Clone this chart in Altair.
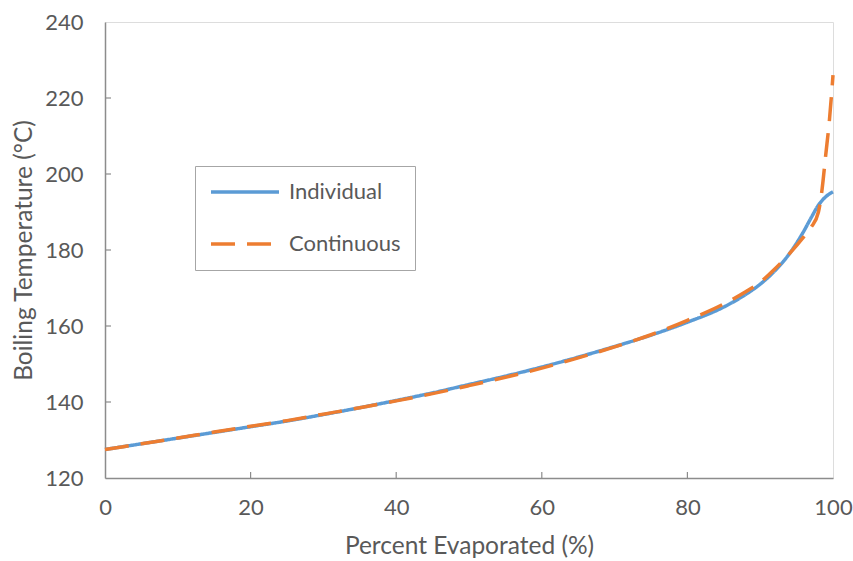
import altair as alt
import pandas as pd

ind_x = [0, 5, 10, 15, 20, 25, 30, 35, 40, 45, 50, 55, 60, 65, 70, 75, 80, 85, 88, 90, 92, 94, 96, 97, 98, 99, 100]
ind_y = [127.5, 129.0, 130.5, 132.0, 133.5, 135.0, 136.7, 138.5, 140.4, 142.4, 144.6, 146.8, 149.2, 151.8, 154.6, 157.6, 161.0, 165.0, 168.3, 171.0, 174.5, 179.0, 185.0, 188.5, 191.8, 194.0, 195.3]

con_x = [0, 5, 10, 15, 20, 25, 30, 35, 40, 45, 50, 55, 60, 65, 70, 75, 80, 85, 88, 90, 92, 94, 96, 97, 98, 98.5, 99, 99.5, 100]
con_y = [127.5, 129.0, 130.5, 132.1, 133.6, 135.1, 136.8, 138.5, 140.3, 142.2, 144.3, 146.5, 148.9, 151.6, 154.5, 157.7, 161.5, 165.8, 169.0, 171.5, 175.0, 179.0, 183.5, 186.0, 190.0, 196.0, 205.0, 214.0, 226.0]

series = ["Individual", "Continuous"]
colors = ["#5B9BD5", "#ED7D31"]
dashes = [[1, 0], [24, 12]]

x_ticks = [20, 40, 60, 80]
y_ticks = [140, 160, 180, 200, 220]

df_ind = pd.DataFrame({"x": ind_x, "y": ind_y, "s": "Individual"})
df_con = pd.DataFrame({"x": con_x, "y": con_y, "s": "Continuous"})

W, H = 728, 456
FONT = "Lato"
GRAY = "#595959"
LAB = 22
TIT = 24.5
LW = 3.5

xs = alt.Scale(domain=[0, 100], nice=False)
ys = alt.Scale(domain=[120, 240], nice=False)

color = alt.Color("s:N", scale=alt.Scale(domain=series, range=colors),
                  legend=alt.Legend(title=None, orient="none", legendX=90, legendY=144,
                                    symbolType="stroke", symbolSize=4624, symbolStrokeWidth=LW,
                                    clipHeight=24, rowPadding=28, padding=14,
                                    labelFontSize=LAB, labelFont=FONT, labelColor=GRAY,
                                    strokeColor="#A6A6A6", labelOffset=8, fillColor="white"))
dash = alt.StrokeDash("s:N", scale=alt.Scale(domain=series, range=dashes), legend=None)

xenc = alt.X("x:Q", scale=xs, axis=alt.Axis(title="Percent Evaporated (%)", values=[0, 20, 40, 60, 80, 100],
                                          grid=False, ticks=False, labelPadding=19, titlePadding=16,
                                          labelFlush=False,
                                          labelFontSize=LAB, titleFontSize=TIT, labelColor=GRAY, titleColor=GRAY,
                                          labelFont=FONT, titleFont=FONT, titleFontWeight="normal",
                                          domainColor="#8C8C8C", domainWidth=1.5))
yenc = alt.Y("y:Q", scale=ys, axis=alt.Axis(title="Boiling Temperature (°C)", values=[120, 140, 160, 180, 200, 220, 240],
                                          grid=False, ticks=False, labelPadding=22, titlePadding=8,
                                          labelFlush=False,
                                          labelFontSize=LAB, titleFontSize=TIT, labelColor=GRAY, titleColor=GRAY,
                                          labelFont=FONT, titleFont=FONT, titleFontWeight="normal",
                                          domainColor="#8C8C8C", domainWidth=1.5))

l_ind = alt.Chart(df_ind).mark_line(strokeWidth=LW, interpolate="monotone").encode(
    x=xenc, y=yenc, color=color, strokeDash=dash)
l_con = alt.Chart(df_con).mark_line(strokeWidth=LW, interpolate="monotone").encode(
    x=alt.X("x:Q", scale=xs), y=alt.Y("y:Q", scale=ys), color=color, strokeDash=dash)

xt = alt.Chart(pd.DataFrame({"x": x_ticks})).mark_rule(color="#8C8C8C", strokeWidth=1.2).encode(
    x=alt.X("x:Q", scale=xs), y=alt.value(H), y2=alt.value(H - 6))
yt = alt.Chart(pd.DataFrame({"y": y_ticks})).mark_rule(color="#8C8C8C", strokeWidth=1.2).encode(
    y=alt.Y("y:Q", scale=ys), x=alt.value(0), x2=alt.value(6))

chart = alt.layer(xt, yt, l_ind, l_con).properties(
    width=W, height=H,
    autosize=alt.AutoSizeParams(type="none"),
    padding={"left": 105, "top": 22, "right": 20, "bottom": 83},
).configure_view(stroke="#8C8C8C", strokeWidth=1.5).configure(background="white")

chart.save("out.html", embed_options={"renderer": "svg", "actions": False})
